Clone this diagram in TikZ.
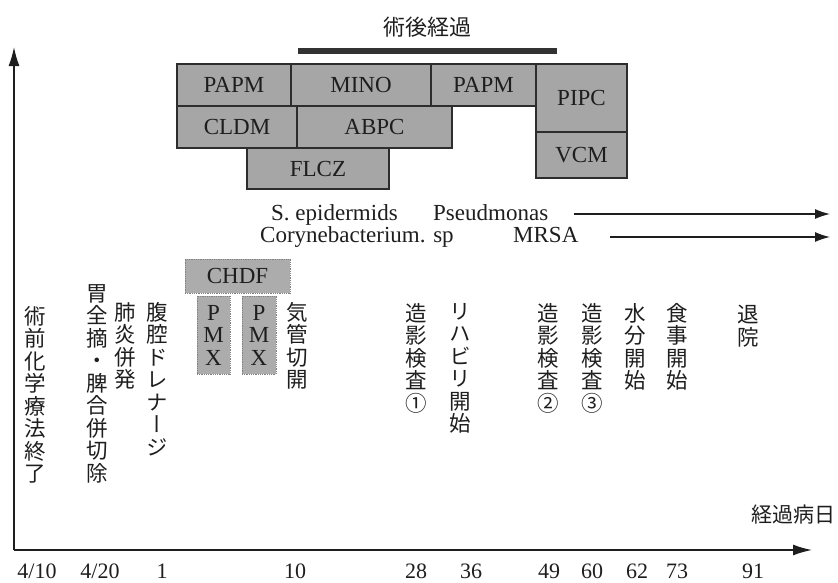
\documentclass[tikz,border=0pt]{standalone}
\usepackage{fontspec}
\setmainfont{Liberation Serif}
\newfontfamily\jp{Noto Sans CJK JP}
\newfontfamily\jpv[RawFeature=+vert]{Noto Sans CJK JP}
\usetikzlibrary{arrows.meta}
\definecolor{ink}{RGB}{30,30,30}
\definecolor{boxgray}{RGB}{166,166,166}
\definecolor{boxline}{RGB}{45,45,45}
\definecolor{dotgray}{RGB}{172,172,172}
\definecolor{dotline}{RGB}{130,130,130}
\definecolor{barcol}{RGB}{50,50,50}
\begin{document}
\begin{tikzpicture}[x=1pt,y=-1pt,
  drug/.style={draw=boxline, fill=boxgray, line width=1.3pt, inner sep=0pt, text=ink, font=\fontsize{23}{23}\selectfont},
  therapy/.style={draw=dotline, fill=dotgray, densely dotted, line width=0.8pt, inner sep=0pt, text=ink, font=\fontsize{23}{22.5}\selectfont, align=center},
  vcol/.style={anchor=north, inner sep=0pt, align=center, text=ink, font=\jpv\fontsize{21.5}{22.5}\selectfont},
  daynum/.style={anchor=base, inner sep=0pt, text=ink, font=\fontsize{22}{22}\selectfont},
  bact/.style={anchor=base west, inner sep=0pt, text=ink, font=\fontsize{23}{23}\selectfont},
  axis/.style={draw=ink, line width=1.5pt, -{Latex[length=19pt,width=11pt]}},
  longarrow/.style={draw=ink, line width=1.3pt, -{Latex[length=15pt,width=10pt]}},
  jtitle/.style={inner sep=0pt, text=ink, font=\jp\fontsize{22}{22}\selectfont},
]
\useasboundingbox (0,0) rectangle (838,582);

% axes
\coordinate (O) at (14,550);
\coordinate (ytop) at (14,47);
\coordinate (xend) at (812,550);
\draw[axis] (O) -- (ytop);
\draw[axis] (O) -- (xend);

% title and bar
\node[jtitle] (title) at (427,27) {術後経過};
\node[fill=barcol, inner sep=0pt, minimum width=259pt, minimum height=6pt] (bar) at (427.5,51) {};

% drug boxes
\node[drug, minimum width=114pt, minimum height=42pt] (papm1) at (234,85) {PAPM};
\node[drug, minimum width=140pt, minimum height=42pt] (mino) at (361,85) {MINO};
\node[drug, minimum width=105pt, minimum height=42pt] (papm2) at (483.5,85) {PAPM};
\node[drug, minimum width=91pt, minimum height=68pt] (pipc) at (581.5,98) {PIPC};
\node[drug, minimum width=91pt, minimum height=46pt] (vcm) at (581.5,155) {VCM};
\node[drug, minimum width=120pt, minimum height=42pt] (cldm) at (237,127) {CLDM};
\node[drug, minimum width=155pt, minimum height=42pt] (abpc) at (374.5,127) {ABPC};
\node[drug, minimum width=142pt, minimum height=41pt] (flcz) at (318,168.5) {FLCZ};

% bacteria
\node[bact] (sepi) at (271,220) {S. epidermids};
\node[bact] (pseud) at (433,220) {Pseudmonas};
\node[bact] (cory) at (260,242) {Corynebacterium. sp};
\node[bact] (mrsa) at (513,242) {MRSA};
\coordinate (a1s) at (574,214);
\coordinate (a1e) at (830,214);
\coordinate (a2s) at (610,237);
\coordinate (a2e) at (830,237);
\draw[longarrow] (a1s) -- (a1e);
\draw[longarrow] (a2s) -- (a2e);

% CHDF / PMX
\node[therapy, minimum width=105pt, minimum height=34pt] (chdf) at (237.5,276) {CHDF};
\node[therapy, minimum width=33pt, minimum height=78pt] (pmx1) at (213.5,335) {P\\M\\X};
\node[therapy, minimum width=34pt, minimum height=78pt] (pmx2) at (259,335) {P\\M\\X};

% vertical event labels
\node[vcol] (e1) at (35,306) {術\\前\\化\\学\\療\\法\\終\\了};
\node[vcol] (e2) at (97,284) {胃\\全\\摘\\・\\脾\\合\\併\\切\\除};
\node[vcol] (e3) at (125,302) {肺\\炎\\併\\発};
\node[vcol] (e4) at (157,302) {腹\\腔\\ド\\レ\\ナ\\ー\\ジ};
\node[vcol] (e5) at (297,302) {気\\管\\切\\開};
\node[vcol] (e6) at (416,303) {造\\影\\検\\査\\①};
\node[vcol] (e7) at (460,303) {リ\\ハ\\ビ\\リ\\開\\始};
\node[vcol] (e8) at (548,303) {造\\影\\検\\査\\②};
\node[vcol] (e9) at (592,303) {造\\影\\検\\査\\③};
\node[vcol] (e10) at (635,303) {水\\分\\開\\始};
\node[vcol] (e11) at (677,303) {食\\事\\開\\始};
\node[vcol] (e12) at (748,305) {退\\院};

% axis label
\node[jtitle, anchor=east, font=\jp\fontsize{21}{21}\selectfont] (xlabel) at (836,515) {経過病日};

% day numbers
\node[daynum] (d1) at (37,578) {4/10};
\node[daynum] (d2) at (100,578) {4/20};
\node[daynum] (d3) at (162,578) {1};
\node[daynum] (d4) at (295,578) {10};
\node[daynum] (d5) at (416,578) {28};
\node[daynum] (d6) at (471,578) {36};
\node[daynum] (d7) at (549,578) {49};
\node[daynum] (d8) at (592,578) {60};
\node[daynum] (d9) at (637,578) {62};
\node[daynum] (d10) at (677,578) {73};
\node[daynum] (d11) at (753,578) {91};
\end{tikzpicture}
\end{document}
